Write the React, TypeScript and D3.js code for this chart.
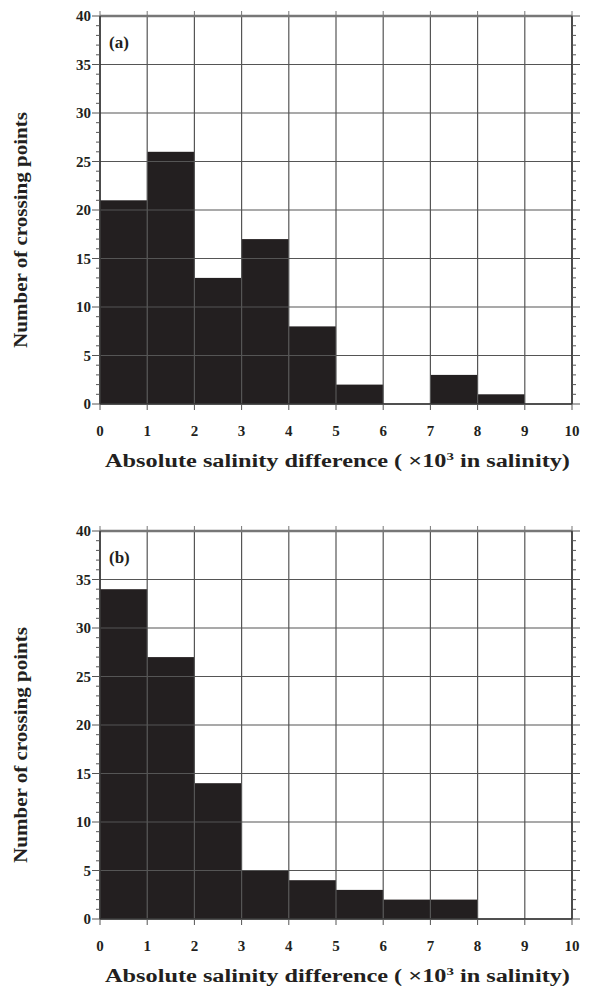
import React from "react";
import * as d3 from "d3";

const bins = [0, 1, 2, 3, 4, 5, 6, 7, 8, 9];
const countsA = [21, 26, 13, 17, 8, 2, 0, 3, 1, 0];
const countsB = [34, 27, 14, 5, 4, 3, 2, 2, 0, 0];
const xTicks = [0, 1, 2, 3, 4, 5, 6, 7, 8, 9, 10];
const yTicks = [0, 5, 10, 15, 20, 25, 30, 35, 40];
const yMinor = d3.range(0, 41, 1);

const font = "'Liberation Serif', 'DejaVu Serif', serif";
const ink = "#231f20";

const Panel = ({ counts, label, top }: { counts: number[]; label: string; top: number }) => {
  const left = 100;
  const right = 572;
  const h = 388;
  const x = d3.scaleLinear().domain([0, 10]).range([left, right]);
  const y = d3.scaleLinear().domain([0, 40]).range([top + h, top]);

  return (
    <g>
      {/* bars */}
      {counts.map((c, i) =>
        c > 0 ? (
          <rect
            key={i}
            x={x(bins[i])}
            y={y(c)}
            width={x(bins[i] + 1) - x(bins[i])}
            height={y(0) - y(c)}
            fill={ink}
          />
        ) : null
      )}
      {/* grid */}
      {xTicks.map(t => (
        <line key={"gx" + t} x1={x(t)} x2={x(t)} y1={y(0)} y2={y(40)} stroke="#555" strokeWidth={1.2} />
      ))}
      {yTicks.map(t => (
        <line key={"gy" + t} x1={left} x2={right} y1={y(t)} y2={y(t)} stroke="#555" strokeWidth={1.2} />
      ))}
      {/* frame */}
      <line x1={left} x2={right} y1={y(40)} y2={y(40)} stroke="#777" strokeWidth={2.5} />
      <line x1={left} x2={right} y1={y(0)} y2={y(0)} stroke="#333" strokeWidth={1.5} />
      <line x1={left} x2={left} y1={y(0)} y2={y(40)} stroke="#333" strokeWidth={1.5} />
      <line x1={right} x2={right} y1={y(0)} y2={y(40)} stroke="#333" strokeWidth={1.5} />
      {/* x ticks */}
      {xTicks.map(t => (
        <g key={"xt" + t}>
          <line x1={x(t)} x2={x(t)} y1={y(0)} y2={y(0) + 6} stroke="#555" strokeWidth={1} />
          <line x1={x(t)} x2={x(t)} y1={y(40)} y2={y(40) - 5} stroke="#777" strokeWidth={1} />
          <text x={x(t)} y={y(0) + 32} textAnchor="middle" fontFamily={font} fontWeight="bold" fontSize={15} fill={ink}>
            {t}
          </text>
        </g>
      ))}
      {/* y ticks */}
      {yMinor.map(t => {
        const major = t % 5 === 0;
        return (
          <g key={"ym" + t}>
            <line x1={left} x2={left - (major ? 8 : 4)} y1={y(t)} y2={y(t)} stroke="#555" strokeWidth={1} />
            <line x1={right} x2={right + (major ? 8 : 4)} y1={y(t)} y2={y(t)} stroke="#555" strokeWidth={1} />
          </g>
        );
      })}
      {yTicks.map(t => (
        <text key={"yl" + t} x={left - 9} y={y(t) + 5} textAnchor="end" fontFamily={font} fontWeight="bold" fontSize={15} fill={ink}>
          {t}
        </text>
      ))}
      <text x={left + 9} y={top + 32} fontFamily={font} fontWeight="bold" fontSize={17} fill={ink}>
        {label}
      </text>
      {/* axis titles */}
      <text
        transform={`translate(27, ${top + h / 2 + 20}) rotate(-90)`}
        textAnchor="middle"
        fontFamily={font}
        fontWeight="bold"
        fontSize={19}
        textLength={236}
        lengthAdjust="spacingAndGlyphs"
        fill={ink}
      >
        Number of crossing points
      </text>
      <text
        x={105}
        y={y(0) + 63}
        fontFamily={font}
        fontWeight="bold"
        fontSize={18}
        fill={ink}
        textLength={465}
        lengthAdjust="spacingAndGlyphs"
      >
        Absolute salinity difference ( ×10<tspan dy={-7} fontSize={11}>3</tspan>
        <tspan dy={7}> in salinity)</tspan>
      </text>
    </g>
  );
};

const App = () => (
  <svg width={592} height={989} style={{ position: "absolute", left: 0, top: 0, background: "#fff" }}>
    <rect width={592} height={989} fill="#fff" />
    <Panel counts={countsA} label="(a)" top={16} />
    <Panel counts={countsB} label="(b)" top={531} />
  </svg>
);

export default App;
